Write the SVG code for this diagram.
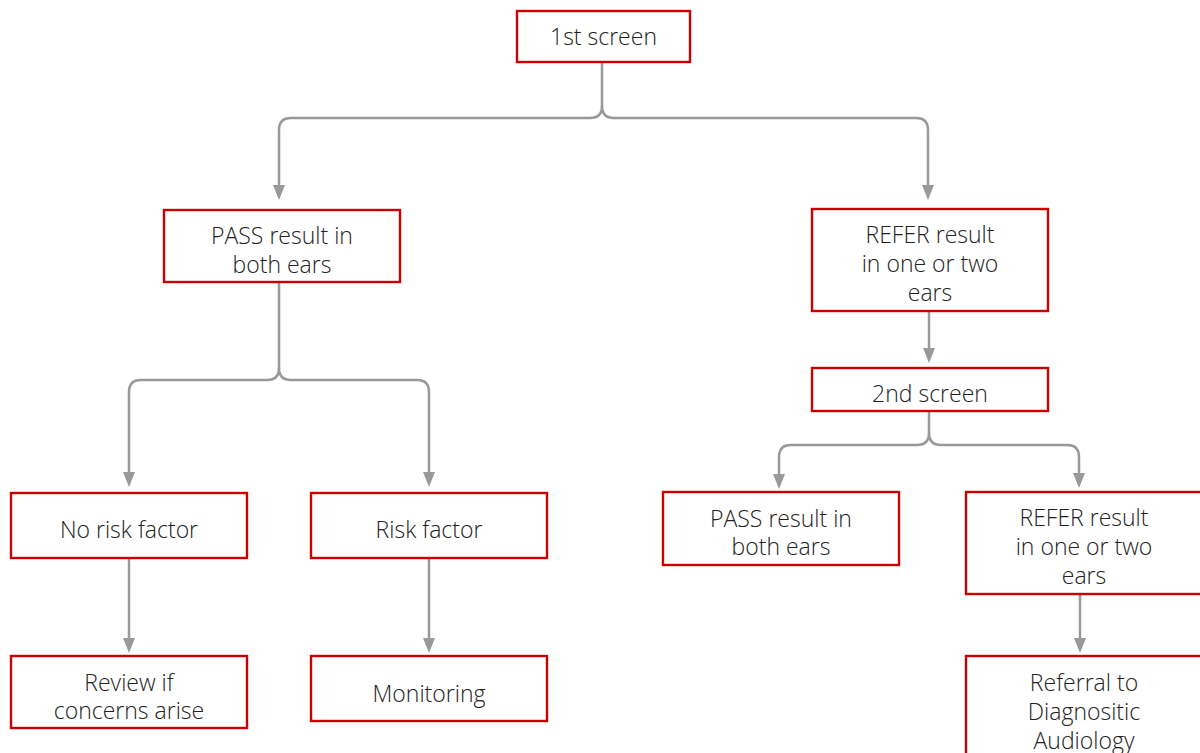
<svg xmlns="http://www.w3.org/2000/svg" width="1200" height="753" viewBox="0 0 1200 753">
<style>
.box{fill:#fff;stroke:#cc0000;stroke-width:2.4}
.t{font-family:"Open Sans","Liberation Sans",sans-serif;font-size:23px;font-weight:300;fill:#222;text-anchor:middle}
.c{fill:none;stroke:#999;stroke-width:2.5}
</style>
<defs>
<marker id="ah" viewBox="0 0 15 12" refX="9" refY="6" markerWidth="15" markerHeight="12" markerUnits="userSpaceOnUse" orient="auto">
<path d="M0,0 L15,6 L0,12 z" fill="#999"/>
</marker>
</defs>
<rect width="1200" height="753" fill="#fff"/>
<g id="connectors">
<path class="c" d="M602,62 V106 Q602,118 590,118 H291 Q279,118 279,130 V194" marker-end="url(#ah)"/>
<path class="c" d="M602,106 Q602,118 614,118 H916 Q928,118 928,130 V194" marker-end="url(#ah)"/>
<path class="c" d="M279,282 V368 Q279,380 267,380 H141 Q129,380 129,392 V481" marker-end="url(#ah)"/>
<path class="c" d="M279,368 Q279,380 291,380 H417 Q429,380 429,392 V481" marker-end="url(#ah)"/>
<path class="c" d="M129,558 V647" marker-end="url(#ah)"/>
<path class="c" d="M429,558 V647" marker-end="url(#ah)"/>
<path class="c" d="M929,311 V357" marker-end="url(#ah)"/>
<path class="c" d="M929,411 V433 Q929,445 917,445 H791 Q779,445 779,457 V483" marker-end="url(#ah)"/>
<path class="c" d="M929,433 Q929,445 941,445 H1067 Q1079,445 1079,457 V482" marker-end="url(#ah)"/>
<path class="c" d="M1080,594 V647" marker-end="url(#ah)"/>
</g>
<g id="n1"><rect class="box" x="517" y="11" width="173" height="51"/><text class="t" x="603.5" y="45">1st screen</text></g>
<g id="n2"><rect class="box" x="164" y="210" width="236" height="72"/><text class="t" x="282" y="244">PASS result in</text><text class="t" x="282" y="273">both ears</text></g>
<g id="n3"><rect class="box" x="812" y="209" width="236" height="102"/><text class="t" x="930" y="243">REFER result</text><text class="t" x="930" y="272">in one or two</text><text class="t" x="930" y="301">ears</text></g>
<g id="n4"><rect class="box" x="812" y="368" width="236" height="43"/><text class="t" x="930" y="402">2nd screen</text></g>
<g id="n5"><rect class="box" x="11" y="493" width="236" height="65"/><text class="t" x="129" y="538">No risk factor</text></g>
<g id="n6"><rect class="box" x="311" y="493" width="236" height="65"/><text class="t" x="429" y="538">Risk factor</text></g>
<g id="n7"><rect class="box" x="663" y="492" width="236" height="73"/><text class="t" x="781" y="527">PASS result in</text><text class="t" x="781" y="555">both ears</text></g>
<g id="n8"><rect class="box" x="966" y="492" width="236" height="102"/><text class="t" x="1084" y="526">REFER result</text><text class="t" x="1084" y="555">in one or two</text><text class="t" x="1084" y="584">ears</text></g>
<g id="n9"><rect class="box" x="11" y="656" width="236" height="72"/><text class="t" x="129" y="691">Review if</text><text class="t" x="129" y="719">concerns arise</text></g>
<g id="n10"><rect class="box" x="311" y="656" width="236" height="65"/><text class="t" x="429" y="702">Monitoring</text></g>
<g id="n11"><rect class="box" x="966" y="656" width="236" height="110"/><text class="t" x="1084" y="691">Referral to</text><text class="t" x="1084" y="720">Diagnositic</text><text class="t" x="1084" y="749">Audiology</text></g>
</svg>
